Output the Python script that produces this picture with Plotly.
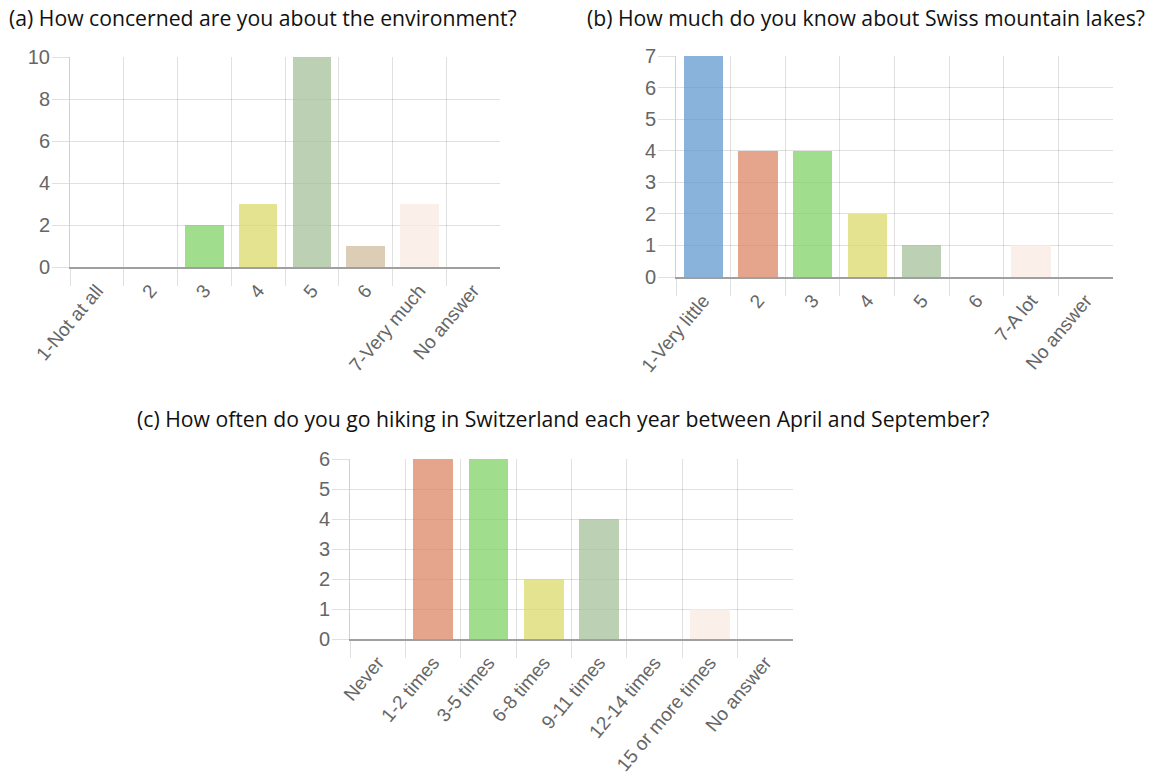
import plotly.graph_objects as go

# Survey answers
concern_labels = ["1-Not at all", "2", "3", "4", "5", "6", "7-Very much", "No answer"]
concern_counts = [0, 0, 2, 3, 10, 1, 3, 0]

lakes_labels = ["1-Very little", "2", "3", "4", "5", "6", "7-A lot", "No answer"]
lakes_counts = [7, 4, 4, 2, 1, 0, 1, 0]

hiking_labels = ["Never", "1-2 times", "3-5 times", "6-8 times", "9-11 times",
                 "12-14 times", "15 or more times", "No answer"]
hiking_counts = [0, 6, 6, 2, 4, 0, 1, 0]

titles = [
    "(a) How concerned are you about the environment?",
    "(b) How much do you know about Swiss mountain lakes?",
    "(c) How often do you go hiking in Switzerland each year between April and September?",
]

# One colour per answer position (semi-transparent fills)
palette = [
    "rgba(98,154,207,0.75)",
    "rgba(220,134,101,0.75)",
    "rgba(128,211,104,0.75)",
    "rgba(219,219,107,0.75)",
    "rgba(166,192,155,0.75)",
    "rgba(208,188,159,0.75)",
    "rgba(248,233,226,0.75)",
    "rgba(200,200,200,0.75)",
]

W, H = 1156, 782
GRID = "rgba(0,0,0,0.12)"
YFONT = dict(family="Liberation Sans", size=20, color="#666666")
XFONT = dict(family="Liberation Sans", size=19, color="#666666")


def px_x(a, b):
    return [a / W, b / W]


def px_y(top, bottom):
    return [1 - bottom / H, 1 - top / H]


panels = [
    dict(labels=concern_labels, counts=concern_counts, ymax=10, dtick=2,
         xdom=px_x(70, 500), ydom=px_y(57, 267), xs="x", ys="y"),
    dict(labels=lakes_labels, counts=lakes_counts, ymax=7, dtick=1,
         xdom=px_x(676, 1113), ydom=px_y(56, 277), xs="x2", ys="y2"),
    dict(labels=hiking_labels, counts=hiking_counts, ymax=6, dtick=1,
         xdom=px_x(350, 793), ydom=px_y(459, 639), xs="x3", ys="y3"),
]

fig = go.Figure()
layout = dict(
    template="none",
    font=dict(family="Liberation Sans"),
    width=W, height=H,
    margin=dict(l=0, r=0, t=0, b=0, autoexpand=False),
    paper_bgcolor="white", plot_bgcolor="white",
    showlegend=False,
    bargap=0,
)

for i, p in enumerate(panels):
    n = len(p["labels"])
    pos = list(range(n))
    fig.add_trace(go.Bar(
        x=pos, y=p["counts"], width=0.72,
        marker=dict(color=palette[:n], line=dict(width=0)),
        xaxis=p["xs"], yaxis=p["ys"], hoverinfo="skip",
    ))
    suffix = "" if i == 0 else str(i + 1)
    layout["xaxis" + suffix] = dict(
        domain=p["xdom"], anchor=p["ys"], range=[-0.5, n - 0.5],
        automargin=False,
        tickmode="array", tickvals=pos, ticktext=p["labels"],
        tickangle=-50, tickfont=XFONT,
        ticks="outside", ticklen=3, tickcolor="rgba(0,0,0,0)",
        showgrid=False, zeroline=False,
        showline=True, linecolor="#a0a0a0", linewidth=2,
        minor=dict(tickmode="array", tickvals=[k - 0.5 for k in range(n)],
                   ticks="outside", ticklen=17, tickcolor=GRID, tickwidth=1,
                   showgrid=True, gridcolor=GRID, gridwidth=1),
        fixedrange=True,
    )
    layout["yaxis" + suffix] = dict(
        domain=p["ydom"], anchor=p["xs"], range=[0, p["ymax"]],
        automargin=False,
        tickmode="linear", tick0=0, dtick=p["dtick"], tickfont=YFONT,
        ticks="outside", ticklen=17, tickcolor=GRID, ticklabelstandoff=-2,
        showgrid=True, gridcolor=GRID, gridwidth=1,
        zeroline=False, showline=True, linecolor="rgba(0,0,0,0.18)", linewidth=1,
        fixedrange=True,
    )

title_font = dict(family="Open Sans", size=21.2, color="#111111")
title_pos = [(262.5, 18), (865.5, 18), (563, 418)]
layout["annotations"] = [
    dict(text=t, x=cx / W, y=1 - cy / H, xref="paper", yref="paper",
         xanchor="center", yanchor="middle", showarrow=False, font=title_font)
    for t, (cx, cy) in zip(titles, title_pos)
]

fig.update_layout(**layout)
fig.write_html("out.html", config={"displayModeBar": False, "staticPlot": True})
